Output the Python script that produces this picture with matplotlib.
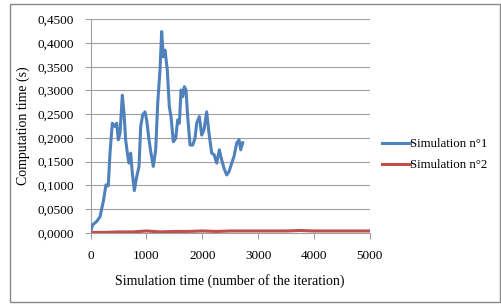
import matplotlib.pyplot as plt
from matplotlib.patches import Rectangle
from matplotlib.ticker import FuncFormatter, MultipleLocator

# Simulation n°1
sim1_x = [0, 35, 107, 167, 226, 274, 315, 346, 388, 435, 466, 495, 525, 567, 597,
          627, 657, 686, 716, 746, 782, 824, 866, 896, 931, 973, 1003, 1045, 1081,
          1122, 1165, 1201, 1242, 1272, 1301, 1332, 1373, 1409, 1439, 1481, 1523,
          1559, 1589, 1619, 1649, 1678, 1708, 1738, 1780, 1828, 1869, 1899, 1947,
          1989, 2030, 2078, 2120, 2168, 2210, 2258, 2305, 2347, 2389, 2437, 2479,
          2527, 2568, 2616, 2658, 2688, 2724]
sim1_y = [0.003, 0.017, 0.024, 0.034, 0.066, 0.101, 0.099, 0.168, 0.231, 0.224,
          0.231, 0.196, 0.210, 0.290, 0.252, 0.196, 0.168, 0.147, 0.168, 0.126,
          0.089, 0.118, 0.140, 0.224, 0.248, 0.255, 0.238, 0.196, 0.168, 0.140,
          0.175, 0.273, 0.343, 0.424, 0.371, 0.385, 0.343, 0.266, 0.245, 0.192,
          0.199, 0.238, 0.231, 0.301, 0.287, 0.308, 0.301, 0.245, 0.185, 0.185,
          0.199, 0.231, 0.245, 0.206, 0.217, 0.255, 0.210, 0.168, 0.165, 0.147,
          0.175, 0.154, 0.136, 0.122, 0.129, 0.147, 0.161, 0.189, 0.196, 0.175,
          0.190]

# Simulation n°2
sim2_x = [0, 250, 500, 750, 1000, 1250, 1500, 1750, 2000, 2250, 2500, 2750,
          3000, 3250, 3500, 3750, 4000, 4250, 4500, 4750, 5000]
sim2_y = [0.001, 0.001, 0.002, 0.002, 0.004, 0.002, 0.003, 0.003, 0.004, 0.003,
          0.004, 0.004, 0.004, 0.004, 0.004, 0.005, 0.004, 0.004, 0.004, 0.004,
          0.004]

series_names = ["Simulation n°1", "Simulation n°2"]
colors = ["#4F81BD", "#C0504D"]

plt.rcParams["font.family"] = ["Liberation Serif", "DejaVu Serif"]

fig = plt.figure(figsize=(5.01, 3.06), dpi=100)
ax = fig.add_axes([0.181, 0.239, 0.557, 0.698])

ax.plot(sim1_x, sim1_y, color=colors[0], lw=2.2, label=series_names[0],
        solid_joinstyle="round", zorder=3)
ax.plot(sim2_x, sim2_y, color=colors[1], lw=2.2, label=series_names[1], zorder=3)

ax.set_xlim(0, 5000)
ax.set_ylim(0, 0.45)
ax.xaxis.set_major_locator(MultipleLocator(1000))
ax.yaxis.set_major_locator(MultipleLocator(0.05))
ax.yaxis.set_major_formatter(FuncFormatter(lambda v, p: f"{v:.4f}".replace(".", ",")))

ax.grid(axis="y", color="#A0A0A0", lw=0.8)
ax.set_axisbelow(True)
for side in ["top", "right"]:
    ax.spines[side].set_visible(False)
for side in ["left", "bottom"]:
    ax.spines[side].set_color("#A0A0A0")
    ax.spines[side].set_linewidth(0.8)
ax.tick_params(axis="both", colors="#A0A0A0", labelcolor="black", labelsize=9.5,
               length=4, width=0.8, direction="out")
ax.tick_params(axis="x", pad=8)
ax.tick_params(axis="y", pad=8)

ax.set_ylabel("Computation time (s)", fontsize=10, labelpad=5)
ax.set_xlabel("Simulation time (number of the iteration)", fontsize=10, labelpad=9)

ax.legend(loc="center left", bbox_to_anchor=(1.002, 0.365), frameon=False,
          fontsize=9.3, handlelength=2.2, handletextpad=0.0, labelspacing=0.7)

fig.patches.append(Rectangle((10 / 501, 4 / 306), 490 / 501, 298 / 306,
                             transform=fig.transFigure, fill=False,
                             edgecolor="#888888", lw=1.0))

fig.savefig("out.png", dpi=100)
